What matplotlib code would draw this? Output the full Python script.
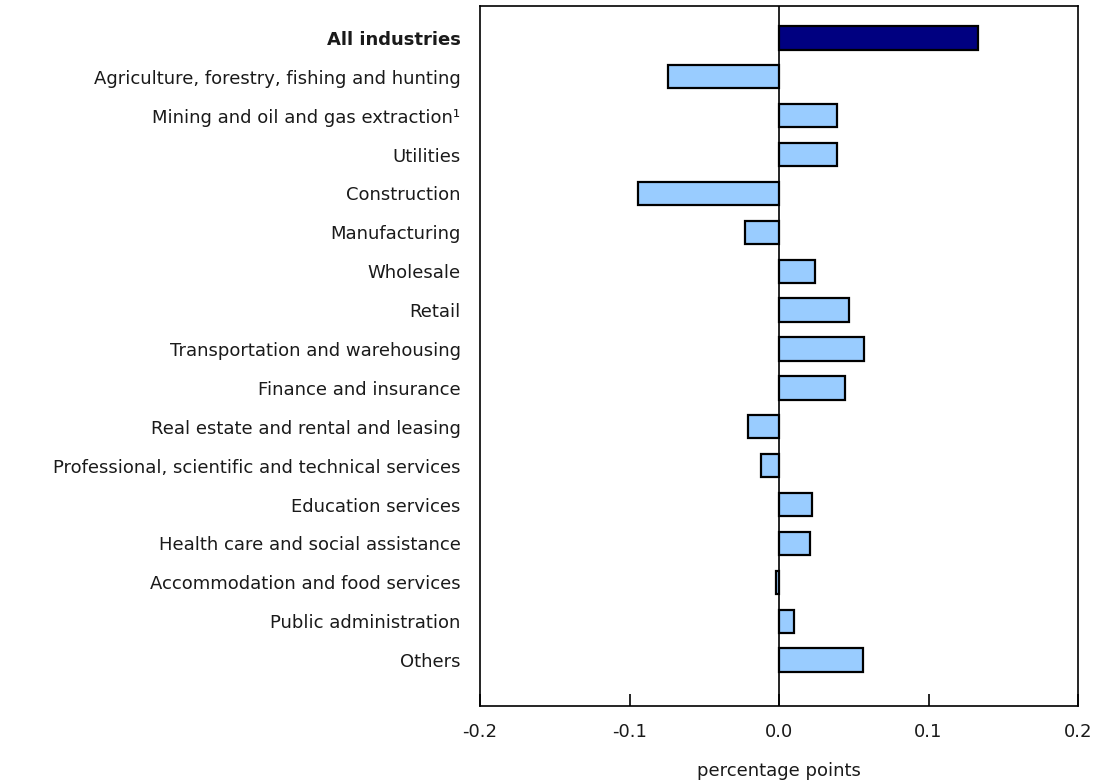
import numpy as np
import matplotlib
matplotlib.use("Agg")
import matplotlib.pyplot as plt

# industries, top to bottom
industries = [
    "All industries",
    "Agriculture, forestry, fishing and hunting",
    "Mining and oil and gas extraction\u00b9",
    "Utilities",
    "Construction",
    "Manufacturing",
    "Wholesale",
    "Retail",
    "Transportation and warehousing",
    "Finance and insurance",
    "Real estate and rental and leasing",
    "Professional, scientific and technical services",
    "Education services",
    "Health care and social assistance",
    "Accommodation and food services",
    "Public administration",
    "Others",
]
# contribution, percentage points
values = [0.133, -0.074, 0.039, 0.039, -0.094, -0.023, 0.024, 0.047, 0.057,
          0.044, -0.021, -0.012, 0.022, 0.021, -0.002, 0.010, 0.056]

x_ticks = [-0.2, -0.1, 0.0, 0.1, 0.2]
x_tick_labels = ["-0.2", "-0.1", "0.0", "0.1", "0.2"]

plt.rcParams['font.family'] = ['DejaVu Sans']

fig = plt.figure(figsize=(10.97, 7.84), dpi=100)
ax = fig.add_axes([480 / 1097, 1 - 706 / 784, 598 / 1097, 700 / 784])

y = np.arange(len(industries))
colors = ["#000080"] + ["#99ccff"] * (len(industries) - 1)
ax.barh(y, values, height=0.6, color=colors, edgecolor="black", linewidth=1.6, zorder=3)
ax.axvline(0, color="black", linewidth=1.2, zorder=2)

ax.set_xlim(-0.2, 0.2)
ax.set_ylim(len(industries) - 1 + 1.18, -0.82)
ax.set_xticks(x_ticks)
ax.set_xticklabels(x_tick_labels, fontsize=13, color="#1a1a1a")
ax.set_yticks(y)
ax.set_yticklabels(industries, fontsize=13, color="#1a1a1a")
ax.get_yticklabels()[0].set_fontweight("bold")
ax.tick_params(axis="y", length=0, pad=14)
ax.tick_params(axis="x", direction="in", length=9, width=1.2, pad=12)
for s in ax.spines.values():
    s.set_linewidth(1.2)
ax.set_xlabel("percentage points", fontsize=13, color="#1a1a1a", labelpad=15)

fig.savefig("out.png", dpi=100)
